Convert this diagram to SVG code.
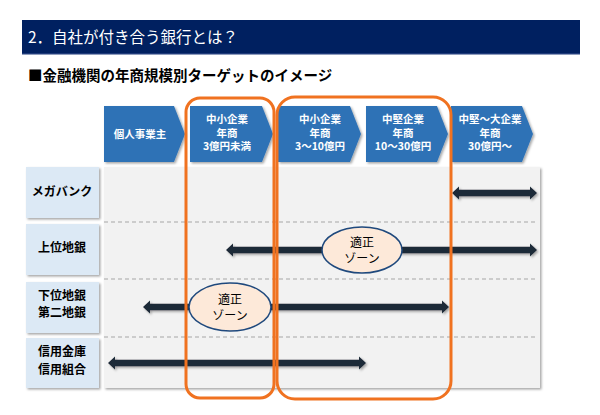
<svg xmlns="http://www.w3.org/2000/svg" width="600" height="415" viewBox="0 0 600 415">
<defs>
<filter id="sh" x="-10%" y="-10%" width="130%" height="140%">
<feDropShadow dx="1.5" dy="1.5" stdDeviation="1" flood-color="#000" flood-opacity="0.35"/>
</filter>
<style>
text{font-family:"Noto Sans CJK JP","Noto Sans",sans-serif;}
.chev{fill:#2e72b6;filter:url(#sh);}
.ct{fill:#fff;font-size:10.5px;font-weight:bold;text-anchor:middle;}
.lab{fill:#dce9f5;filter:url(#sh);}
.lt{fill:#000;font-size:12px;font-weight:bold;text-anchor:middle;}
.dash{stroke:#a6a6a6;stroke-width:1;stroke-dasharray:4 3;}
.arr{fill:#1f2937;filter:url(#sh);}
.ell{fill:#fde9d9;stroke:#1f497d;stroke-width:1.5;}
.et{fill:#000;font-size:12px;text-anchor:middle;}
.zone{fill:none;stroke:#f07220;stroke-width:3;}
</style>
</defs>
<rect width="600" height="415" fill="#fff"/>
<g id="header">
<rect x="22" y="20" width="558" height="34" fill="#002060"/>
<rect x="22" y="53" width="558" height="1.5" fill="#1f3a7a"/>
<text x="28" y="43" fill="#fff" font-size="15.5">2．自社が付き合う銀行とは？</text>
</g>
<g id="subtitle">
<text x="28" y="81" fill="#000" font-size="14.5" font-weight="bold">■金融機関の年商規模別ターゲットのイメージ</text>
</g>
<g id="panel">
<rect x="104" y="167" width="436" height="221" fill="#f2f2f2" filter="url(#sh)"/>
<line class="dash" x1="104" y1="222" x2="536" y2="222"/>
<line class="dash" x1="104" y1="279" x2="536" y2="279"/>
<line class="dash" x1="104" y1="337" x2="536" y2="337"/>
</g>
<g id="col1">
<polygon class="chev" points="104,106 174,106 185,134 174,162 104,162"/>
<text class="ct" x="140" y="138">個人事業主</text>
</g>
<g id="col2">
<polygon class="chev" points="190,106 262,106 273,134 262,162 190,162"/>
<text class="ct" x="227" y="123">中小企業</text>
<text class="ct" x="227" y="136.5">年商</text>
<text class="ct" x="227" y="150">3億円未満</text>
</g>
<g id="col3">
<polygon class="chev" points="278,106 350,106 361,134 350,162 278,162"/>
<text class="ct" x="320" y="123">中小企業</text>
<text class="ct" x="320" y="136.5">年商</text>
<text class="ct" x="320" y="150">3～10億円</text>
</g>
<g id="col4">
<polygon class="chev" points="366,106 437,106 448,134 437,162 366,162"/>
<text class="ct" x="403" y="123">中堅企業</text>
<text class="ct" x="403" y="136.5">年商</text>
<text class="ct" x="403" y="150">10～30億円</text>
</g>
<g id="col5">
<polygon class="chev" points="451,106 522,106 533,134 522,162 451,162"/>
<text class="ct" x="490" y="123">中堅～大企業</text>
<text class="ct" x="490" y="136.5">年商</text>
<text class="ct" x="490" y="150">30億円～</text>
</g>
<g id="row1">
<rect class="lab" x="26" y="167" width="73" height="51"/>
<text class="lt" x="62" y="196">メガバンク</text>
</g>
<g id="row2">
<rect class="lab" x="26" y="224" width="73" height="51"/>
<text class="lt" x="62" y="252">上位地銀</text>
</g>
<g id="row3">
<rect class="lab" x="26" y="282" width="73" height="51"/>
<text class="lt" x="62" y="299.5">下位地銀</text>
<text class="lt" x="62" y="317">第二地銀</text>
</g>
<g id="row4">
<rect class="lab" x="26" y="338" width="73" height="50"/>
<text class="lt" x="62" y="356">信用金庫</text>
<text class="lt" x="62" y="373.5">信用組合</text>
</g>
<g id="connectors">
<path class="arr" d="M452,193 L459,186.5 L459,189.8 L530,189.8 L530,186.5 L537,193 L530,199.5 L530,196.2 L459,196.2 L459,199.5 Z"/>
<path class="arr" d="M226,250 L233,243.5 L233,246.8 L530,246.8 L530,243.5 L537,250 L530,256.5 L530,253.2 L233,253.2 L233,256.5 Z"/>
<path class="arr" d="M143,307 L150,300.5 L150,303.8 L442,303.8 L442,300.5 L449,307 L442,313.5 L442,310.2 L150,310.2 L150,313.5 Z"/>
<path class="arr" d="M108,363 L115,356.5 L115,359.8 L359,359.8 L359,356.5 L366,363 L359,369.5 L359,366.2 L115,366.2 L115,369.5 Z"/>
</g>
<g id="zone1">
<ellipse class="ell" cx="362" cy="250" rx="40" ry="23"/>
<text class="et" x="362" y="247">適正</text>
<text class="et" x="362" y="263">ゾーン</text>
</g>
<g id="zone2">
<ellipse class="ell" cx="230" cy="307" rx="41" ry="24"/>
<text class="et" x="230" y="304">適正</text>
<text class="et" x="230" y="320">ゾーン</text>
</g>
<g id="highlight-small">
<rect class="zone" x="186" y="98" width="88" height="300" rx="14"/>
</g>
<g id="highlight-mid">
<rect class="zone" x="277" y="97" width="174" height="302" rx="18"/>
</g>
</svg>
